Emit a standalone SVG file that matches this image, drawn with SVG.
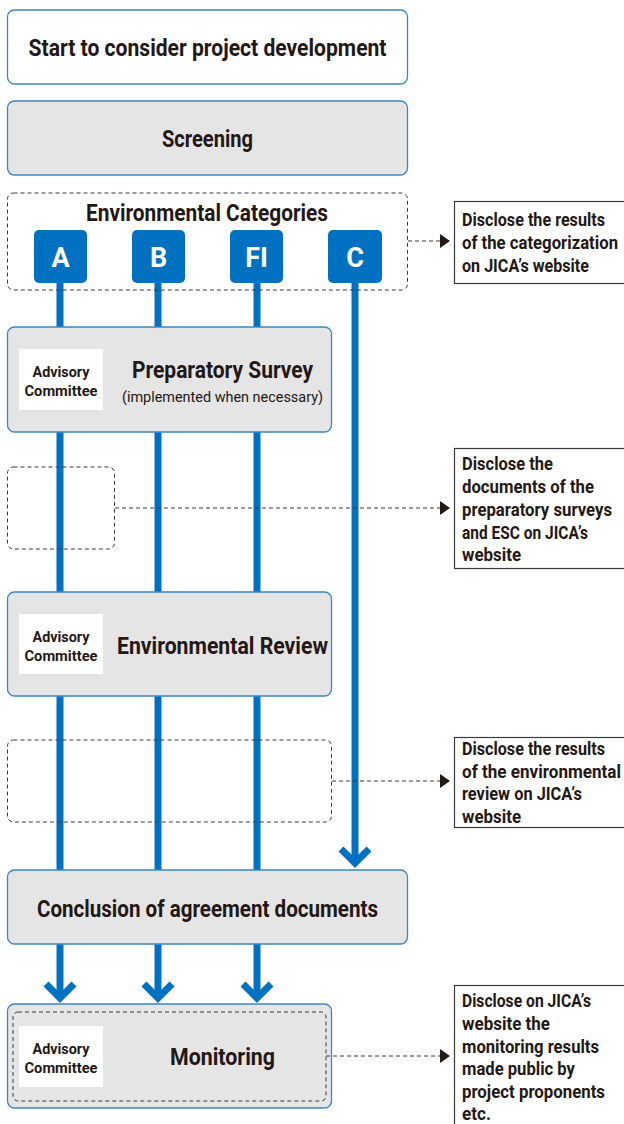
<svg xmlns="http://www.w3.org/2000/svg" width="624" height="1124" viewBox="0 0 624 1124">
<defs>
<style>
text{font-family:"Liberation Sans Narrow","Roboto","Noto Sans",sans-serif;fill:#231815}
.node{fill:#e5e5e5;stroke:#3a86c8;stroke-width:1.3}
.white{fill:#fff;stroke:#3a86c8;stroke-width:1.3}
.dash{fill:none;stroke:#3a3a3a;stroke-width:1;stroke-dasharray:4 3}
.lane{stroke:#0070c0;stroke-width:7;fill:none}
.chev{stroke:#0070c0;stroke-width:7;fill:none;stroke-linejoin:miter}
.cat{fill:#0070c0}
.catt{fill:#fff;font-weight:bold;font-size:27px;text-anchor:middle}
.adv{fill:#fff}
.advt{font-weight:bold;font-size:15px;text-anchor:middle}
.t1{font-weight:bold;font-size:23px;text-anchor:middle}
.note{fill:#fff;stroke:#3a3a3a;stroke-width:1.2}
.nt{font-weight:bold;font-size:17.5px}
.tri{fill:#231815}
</style>
</defs>

<g id="connectors">
<line class="lane" x1="60" y1="283" x2="60" y2="870"/>
<line class="lane" x1="158" y1="283" x2="158" y2="870"/>
<line class="lane" x1="257" y1="283" x2="257" y2="870"/>
<line class="lane" x1="355" y1="283" x2="355" y2="862"/>
<polyline class="chev" points="341,849 355,863 369,849"/>
<line class="lane" x1="60" y1="944" x2="60" y2="998"/>
<line class="lane" x1="158" y1="944" x2="158" y2="998"/>
<line class="lane" x1="257" y1="944" x2="257" y2="998"/>
<polyline class="chev" points="46,984 60,998 74,984"/>
<polyline class="chev" points="144,984 158,998 172,984"/>
<polyline class="chev" points="243,984 257,998 271,984"/>
</g>

<g id="start">
<rect class="white" x="7.5" y="10" width="400" height="74" rx="7"/>
<text class="t1" x="207.5" y="56" textLength="358" lengthAdjust="spacingAndGlyphs">Start to consider project development</text>
</g>

<g id="screening">
<rect class="node" x="7.5" y="101" width="400" height="74" rx="7"/>
<text class="t1" x="207.5" y="147" textLength="91" lengthAdjust="spacingAndGlyphs">Screening</text>
</g>

<g id="categories">
<rect class="dash" x="7.5" y="193" width="400" height="97" rx="6"/>
<text class="t1" x="207" y="221" font-size="22" textLength="242" lengthAdjust="spacingAndGlyphs">Environmental Categories</text>
<rect class="cat" x="34" y="230" width="53" height="53" rx="5"/>
<text class="catt" x="60.5" y="267">A</text>
<rect class="cat" x="132" y="230" width="53" height="53" rx="5"/>
<text class="catt" x="158.5" y="267">B</text>
<rect class="cat" x="230" y="230" width="53" height="53" rx="5"/>
<text class="catt" x="256.5" y="267">FI</text>
<rect class="cat" x="328" y="230" width="54" height="53" rx="5"/>
<text class="catt" x="355" y="267">C</text>
</g>

<g id="prep-survey">
<rect class="node" x="7.5" y="327" width="324" height="105" rx="7"/>
<rect class="adv" x="19" y="349" width="84" height="61"/>
<text class="advt" x="61" y="377" textLength="57" lengthAdjust="spacingAndGlyphs">Advisory</text>
<text class="advt" x="61" y="396" textLength="73" lengthAdjust="spacingAndGlyphs">Committee</text>
<text class="t1" x="222.5" y="378" textLength="181" lengthAdjust="spacingAndGlyphs">Preparatory Survey</text>
<text x="222.5" y="402" font-size="15.5" text-anchor="middle" textLength="201" lengthAdjust="spacingAndGlyphs">(implemented when necessary)</text>
</g>

<g id="disclose-prep-box">
<rect class="dash" x="7.5" y="467" width="107" height="82" rx="6"/>
</g>

<g id="env-review">
<rect class="node" x="7.5" y="592" width="324" height="104" rx="7"/>
<rect class="adv" x="19" y="614" width="84" height="60"/>
<text class="advt" x="61" y="642" textLength="57" lengthAdjust="spacingAndGlyphs">Advisory</text>
<text class="advt" x="61" y="661" textLength="73" lengthAdjust="spacingAndGlyphs">Committee</text>
<text class="t1" x="222.5" y="654" textLength="211" lengthAdjust="spacingAndGlyphs">Environmental Review</text>
</g>

<g id="disclose-review-box">
<rect class="dash" x="7.5" y="740" width="324" height="82" rx="6"/>
</g>

<g id="conclusion">
<rect class="node" x="7.5" y="870" width="400" height="74" rx="7"/>
<text class="t1" x="207.5" y="917" textLength="341" lengthAdjust="spacingAndGlyphs">Conclusion of agreement documents</text>
</g>

<g id="monitoring">
<rect class="node" x="7.5" y="1004" width="324" height="104" rx="7"/>
<rect class="dash" x="13" y="1012" width="313" height="89" rx="5"/>
<rect class="adv" x="19" y="1026" width="84" height="61"/>
<text class="advt" x="61" y="1054" textLength="57" lengthAdjust="spacingAndGlyphs">Advisory</text>
<text class="advt" x="61" y="1073" textLength="73" lengthAdjust="spacingAndGlyphs">Committee</text>
<text class="t1" x="222.5" y="1065" textLength="105" lengthAdjust="spacingAndGlyphs">Monitoring</text>
</g>

<g id="disclosure-links">
<line class="dash" x1="408" y1="241" x2="440" y2="241"/>
<polygon class="tri" points="440,234 450,241 440,248"/>
<line class="dash" x1="115" y1="508" x2="440" y2="508"/>
<polygon class="tri" points="440,501 450,508 440,515"/>
<line class="dash" x1="332" y1="781" x2="440" y2="781"/>
<polygon class="tri" points="440,774 450,781 440,788"/>
<line class="dash" x1="326" y1="1056" x2="440" y2="1056"/>
<polygon class="tri" points="440,1049 450,1056 440,1063"/>
</g>

<g id="note-categorization">
<rect class="note" x="454.5" y="201.5" width="175" height="82"/>
<text class="nt" x="462" y="226" textLength="143" lengthAdjust="spacingAndGlyphs">Disclose the results</text>
<text class="nt" x="462" y="249" textLength="156" lengthAdjust="spacingAndGlyphs">of the categorization</text>
<text class="nt" x="462" y="272" textLength="127" lengthAdjust="spacingAndGlyphs">on JICA’s website</text>
</g>

<g id="note-prep">
<rect class="note" x="454.5" y="448.5" width="175" height="120"/>
<text class="nt" x="462" y="470" textLength="91" lengthAdjust="spacingAndGlyphs">Disclose the</text>
<text class="nt" x="462" y="493" textLength="132" lengthAdjust="spacingAndGlyphs">documents of the</text>
<text class="nt" x="462" y="516" textLength="150" lengthAdjust="spacingAndGlyphs">preparatory surveys</text>
<text class="nt" x="462" y="539" textLength="126" lengthAdjust="spacingAndGlyphs">and ESC on JICA’s</text>
<text class="nt" x="462" y="561" textLength="59" lengthAdjust="spacingAndGlyphs">website</text>
</g>

<g id="note-review">
<rect class="note" x="454.5" y="737.5" width="175" height="90"/>
<text class="nt" x="462" y="755" textLength="143" lengthAdjust="spacingAndGlyphs">Disclose the results</text>
<text class="nt" x="462" y="778" textLength="159" lengthAdjust="spacingAndGlyphs">of the environmental</text>
<text class="nt" x="462" y="800" textLength="120" lengthAdjust="spacingAndGlyphs">review on JICA’s</text>
<text class="nt" x="462" y="823" textLength="59" lengthAdjust="spacingAndGlyphs">website</text>
</g>

<g id="note-monitoring">
<rect class="note" x="454.5" y="985.5" width="175" height="145"/>
<text class="nt" x="462" y="1007" textLength="129" lengthAdjust="spacingAndGlyphs">Disclose on JICA’s</text>
<text class="nt" x="462" y="1030" textLength="88" lengthAdjust="spacingAndGlyphs">website the</text>
<text class="nt" x="462" y="1053" textLength="137" lengthAdjust="spacingAndGlyphs">monitoring results</text>
<text class="nt" x="462" y="1075" textLength="113" lengthAdjust="spacingAndGlyphs">made public by</text>
<text class="nt" x="462" y="1098" textLength="143" lengthAdjust="spacingAndGlyphs">project proponents</text>
<text class="nt" x="462" y="1120" textLength="29" lengthAdjust="spacingAndGlyphs">etc.</text>
</g>
</svg>
